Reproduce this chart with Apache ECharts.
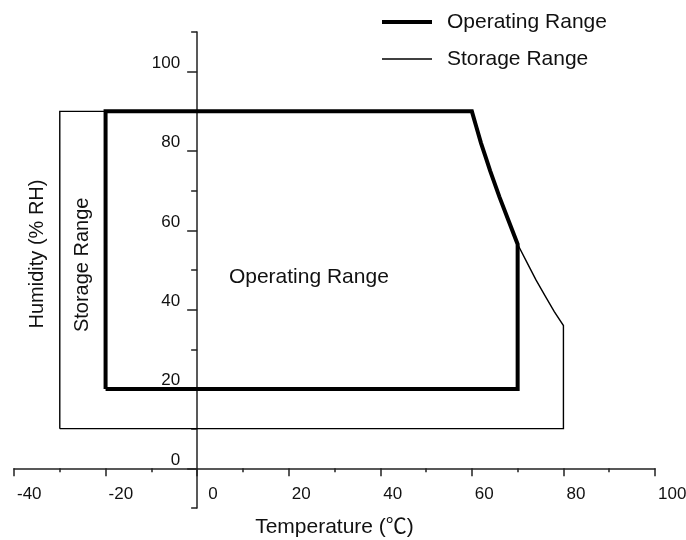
<!DOCTYPE html>
<html>
<head>
<meta charset="utf-8">
<script src="https://cdn.jsdelivr.net/npm/echarts@6/dist/echarts.min.js"></script>
<style>
html,body{margin:0;padding:0;background:#fff;}
#chart{width:686px;height:540px;}
</style>
</head>
<body>
<div id="chart"></div>
<script>
// ---- data ----
const seriesNames = ['Operating Range', 'Storage Range'];
const operatingRange = [[-20,20],[-20,90],[60,90],[61,86],[62,82],[63,78.5],[64,75],[66,68.5],[68,62.5],[70,56.5],[70,20],[-20,20]];
const storageRange = [[-30,10],[-30,90],[60,90],[61,86],[62,82],[63,78.5],[64,75],[66,68.5],[68,62.5],[70,56.5],[72,52],[74,47.5],[76,43.5],[78,39.5],[80,36],[80,10],[-30,10]];
const xTickLabels = [-40,-20,0,20,40,60,80,100];
const yTickLabels = [0,20,40,60,80,100];
const annotations = [
  {text:'Operating Range', x:24.4, y:48.1, rotate:0, size:21},
  {text:'Storage Range', x:-25.1, y:51.3, rotate:90, size:20}
];
const xName = 'Temperature (\u2103)';
const yName = 'Humidity (% RH)';

const FONT = '"Liberation Sans", Arial, "Noto Sans CJK SC", sans-serif';
const INK = '#111';
const AX = '#222';

// grid geometry
const G = {left: 14, right: 31, top: 32, bottom: 32, w: 686, h: 540};
const X_MIN = -40, X_MAX = 100, Y_MIN = -10, Y_MAX = 110;
const gw = G.w - G.left - G.right, gh = G.h - G.top - G.bottom;
const yAxisShift = gw * (0 - X_MIN) / (X_MAX - X_MIN);   // distance of x=0 from grid left
const xAxisShift = gh * (0 - Y_MIN) / (Y_MAX - Y_MIN);   // distance of y=0 from grid bottom

const chart = echarts.init(document.getElementById('chart'), null, {renderer:'canvas'});

const option = {
  animation: false,
  backgroundColor: '#fff',
  textStyle: {fontFamily: FONT, color: INK},
  grid: {left: G.left, right: G.right, top: G.top, bottom: G.bottom, containLabel: false, outerBoundsMode: 'none'},
  legend: {
    data: [
      {name: seriesNames[0], itemStyle: {opacity: 0}, lineStyle: {width: 4, color: '#000'}},
      {name: seriesNames[1], itemStyle: {opacity: 0}, lineStyle: {width: 1.4, color: '#000'}}
    ],
    orient: 'vertical',
    left: 375, top: 6,
    itemWidth: 50, itemHeight: 14, itemGap: 15,
    textStyle: {fontFamily: FONT, fontSize: 21, color: INK, lineHeight: 22, padding: [0,0,0,10]}
  },
  xAxis: {
    type: 'value', min: X_MIN, max: X_MAX, interval: 20,
    position: 'bottom', offset: -xAxisShift,
    name: xName, nameLocation: 'middle', nameGap: 48,
    nameTextStyle: {fontFamily: FONT, fontSize: 21, color: INK},
    axisLine: {onZero: false, lineStyle: {color: AX, width: 1.5}},
    axisTick: {show: true, inside: false, length: 8, lineStyle: {color: AX, width: 1.5}},
    minorTick: {show: true, splitNumber: 2, length: 4, lineStyle: {color: AX, width: 1.5}},
    splitLine: {show: false}, minorSplitLine: {show: false},
    axisLabel: {
      margin: 17, align: 'left', fontSize: 17, fontFamily: FONT, color: INK,
      padding: [0,0,0,3],
      formatter: v => xTickLabels.indexOf(v) < 0 ? '' : (v === 0 ? '{z|0}' : String(v)),
      rich: {z: {fontSize: 17, fontFamily: FONT, color: INK, padding: [0,0,0,8]}}
    }
  },
  yAxis: [{
    type: 'value', min: Y_MIN, max: Y_MAX, interval: 10,
    position: 'left', offset: -yAxisShift,
    name: yName, nameLocation: 'middle', nameGap: 150,
    nameTextStyle: {fontFamily: FONT, fontSize: 20, color: INK, padding: [0,0,0,32]},
    axisLine: {onZero: false, lineStyle: {color: AX, width: 1.5}},
    axisTick: {show: true, inside: false, length: 6, lineStyle: {color: AX, width: 1.5}},
    splitLine: {show: false},
    axisLabel: {
      margin: 17, fontSize: 17, fontFamily: FONT, color: INK, verticalAlign: 'bottom',
      formatter: v => yTickLabels.indexOf(v) < 0 ? '' : String(v)
    }
  }, {
    type: 'value', min: Y_MIN, max: Y_MAX, position: 'right', offset: -(gw - yAxisShift),
    axisLine: {show: false, onZero: false},
    axisTick: {show: true, inside: true, length: 10, customValues: yTickLabels, lineStyle: {color: AX, width: 1.5}},
    axisLabel: {show: false}, splitLine: {show: false}
  }],
  series: [
    {
      name: 'Storage Range', type: 'line', data: storageRange, symbol: 'none',
      lineStyle: {color: '#000', width: 1.4, join: 'miter'}, itemStyle: {color: '#000'}, z: 2
    },
    {
      name: 'Operating Range', type: 'line', data: operatingRange, symbol: 'none',
      lineStyle: {color: '#000', width: 4, join: 'miter'}, itemStyle: {color: '#000'}, z: 3
    },
    {
      name: 'annotations', type: 'scatter', silent: true, symbolSize: 0,
      itemStyle: {color: '#000', opacity: 1},
      data: annotations.map(a => ({
        value: [a.x, a.y],
        label: {show: true, position: 'inside', formatter: a.text, rotate: a.rotate,
                fontSize: a.size, fontFamily: FONT, color: INK, opacity: 1, textBorderWidth: 0}
      }))
    }
  ]
};
chart.setOption(option);
</script>
</body>
</html>
